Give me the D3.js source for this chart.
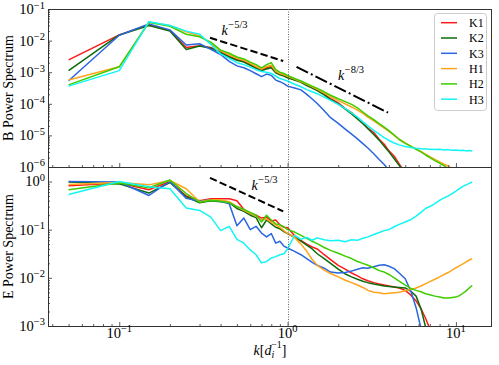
<!DOCTYPE html>
<html>
<head>
<meta charset="utf-8">
<script src="https://cdn.jsdelivr.net/npm/d3@7"></script>
<style>
body { margin: 0; background: #fff; }
svg { display: block; }
text { font-family: "Liberation Serif", "DejaVu Serif", serif; fill: #000; }
</style>
</head>
<body>
<svg width="499" height="365"></svg>
<script>
// wavenumbers k [1/d_i] where values were read
var kLow = [0.05,0.1,0.15,0.2,0.25,0.3,0.35,0.4,0.45,0.5,0.55,0.6,0.65,0.7,0.75,0.8,0.85,0.9,0.95,1.0]
var kHigh = [1.1,1.2,1.3,1.4,1.5,1.65,1.8,2.0,2.2,2.4,2.6,2.8,3.0,3.25,3.5,3.75,4.0,4.3,4.6,5.0,
             5.4,5.8,6.2,6.6,7.0,7.5,8.0,8.5,9.0,9.5,10,10.5,11,11.5,12,12.5]
var kAll = kLow.concat(kHigh)

var names = ["K1","K2","K3","H1","H2","H3"]
var colors = ["#ff1a1a","#0b6b0b","#2a66e0","#ffa51c","#3dcc00","#12f5f5"]

// B power spectrum, log10 values
var bK1 = [-2.61,-1.82,-1.50,-1.68,-2.22,-2.16,-2.22,-2.36,-2.50,-2.60,-2.66,-2.76,-2.86,-2.92,-2.86,-2.82,-3.00,-3.06,-3.10,-3.16,
           -3.24,-3.29,-3.41,-3.47,-3.57,-3.69,-3.84,-3.97,-4.15,-4.28,-4.46,-4.58,-4.77,-4.91,-5.12,-5.28,-5.49,-5.66,-5.90,-6.20]
var bK2 = [-2.95,-1.82,-1.52,-1.70,-2.28,-2.17,-2.24,-2.38,-2.52,-2.62,-2.68,-2.78,-2.88,-2.95,-2.90,-2.86,-3.02,-3.08,-3.12,-3.18,
           -3.25,-3.32,-3.42,-3.50,-3.58,-3.72,-3.86,-4.00,-4.17,-4.32,-4.48,-4.63,-4.79,-4.97,-5.15,-5.34,-5.52,-5.74,-5.95,-6.20]
var bK3 = [-3.27,-1.83,-1.47,-1.66,-2.14,-2.10,-2.28,-2.44,-2.66,-2.80,-2.86,-2.95,-3.05,-3.14,-3.06,-3.10,-3.25,-3.30,-3.36,-3.44,
           -3.50,-3.56,-3.70,-3.85,-3.99,-4.22,-4.44,-4.62,-4.80,-4.96,-5.11,-5.26,-5.40,-5.58,-5.76,-5.92,-6.10]
var bH1 = [-3.25,-2.83,-1.42,-1.52,-1.72,-1.85,-2.10,-2.32,-2.45,-2.56,-2.62,-2.72,-2.82,-2.90,-2.82,-2.78,-2.97,-3.04,-3.08,-3.13,
           -3.22,-3.30,-3.38,-3.46,-3.54,-3.66,-3.77,-3.90,-4.00,-4.10,-4.20,-4.30,-4.42,-4.54,-4.66,-4.77,-4.87,-5.00,-5.12,-5.24,
           -5.34,-5.43,-5.51,-5.59,-5.67,-5.76,-5.84,-5.91,-5.97,-6.05]
var bH2 = [-3.40,-2.83,-1.42,-1.55,-1.80,-1.88,-2.05,-2.30,-2.40,-2.52,-2.58,-2.68,-2.76,-2.86,-2.76,-2.70,-2.92,-3.00,-3.04,-3.10,
           -3.20,-3.28,-3.36,-3.44,-3.51,-3.62,-3.73,-3.84,-3.93,-4.02,-4.13,-4.26,-4.38,-4.50,-4.63,-4.74,-4.85,-4.99,-5.13,-5.25,
           -5.35,-5.44,-5.52,-5.62,-5.70,-5.80,-5.88,-5.96,-6.05]
var bH3 = [-3.44,-2.95,-1.40,-1.52,-1.70,-1.80,-2.12,-2.42,-2.56,-2.70,-2.76,-2.84,-2.92,-2.98,-3.00,-3.04,-3.12,-3.20,-3.24,-3.28,
           -3.38,-3.46,-3.55,-3.62,-3.68,-3.79,-3.89,-4.02,-4.15,-4.29,-4.42,-4.57,-4.70,-4.84,-4.96,-5.07,-5.16,-5.24,-5.30,-5.35,
           -5.38,-5.41,-5.42,-5.43,-5.44,-5.45,-5.44,-5.46,-5.45,-5.47,-5.46,-5.48,-5.47,-5.49,-5.48,-5.49]

// E power spectrum, log10 values
var eK1 = [-0.09,-0.03,-0.17,0.00,-0.30,-0.40,-0.36,-0.36,-0.36,-0.40,-0.58,-0.66,-0.70,-0.76,-0.74,-0.82,-0.80,-0.90,-0.95,-0.96,
           -1.12,-1.22,-1.30,-1.36,-1.40,-1.52,-1.62,-1.74,-1.82,-1.90,-1.96,-2.02,-2.06,-2.10,-2.13,-2.15,-2.17,-2.19,-2.21,-2.26,
           -2.36,-2.48,-2.64,-2.84,-3.06,-3.30]
var eK2 = [-0.01,-0.05,-0.24,-0.02,-0.32,-0.44,-0.40,-0.42,-0.44,-0.56,-0.62,-0.70,-0.75,-0.96,-0.80,-0.88,-0.95,-0.98,-1.04,-1.08,
           -1.16,-1.24,-1.32,-1.40,-1.50,-1.60,-1.70,-1.82,-1.92,-1.98,-2.03,-2.07,-2.10,-2.13,-2.15,-2.17,-2.18,-2.19,-2.20,-2.21,
           -2.28,-2.38,-2.64,-3.02,-3.40]
var eK3 = [0.00,-0.01,-0.29,0.00,-0.35,-0.41,-0.38,-0.41,-0.46,-0.92,-0.76,-1.00,-0.93,-1.07,-1.15,-1.08,-1.28,-1.24,-1.34,-1.38,
           -1.45,-1.52,-1.60,-1.68,-1.74,-1.80,-1.88,-1.90,-1.89,-1.86,-1.82,-1.79,-1.80,-1.77,-1.74,-1.73,-1.76,-1.81,-1.90,-2.02,
           -2.28,-2.62,-3.05]
var eH1 = [-0.06,-0.02,-0.07,0.02,-0.15,-0.42,-0.38,-0.38,-0.42,-0.52,-0.60,-0.66,-0.72,-0.80,-0.78,-0.85,-0.90,-0.95,-1.02,-1.08,
           -1.16,-1.30,-1.45,-1.62,-1.74,-1.84,-1.91,-1.98,-2.05,-2.10,-2.15,-2.20,-2.26,-2.30,-2.31,-2.33,-2.32,-2.31,-2.30,-2.27,
           -2.24,-2.21,-2.17,-2.12,-2.08,-2.03,-1.98,-1.93,-1.89,-1.84,-1.79,-1.75,-1.71,-1.67,-1.63,-1.60]
var eH2 = [-0.17,-0.03,-0.13,0.03,-0.25,-0.43,-0.39,-0.41,-0.44,-0.52,-0.58,-0.64,-0.70,-0.84,-0.70,-0.80,-0.88,-0.90,-0.94,-1.00,
           -1.05,-1.12,-1.18,-1.24,-1.29,-1.37,-1.43,-1.49,-1.55,-1.60,-1.66,-1.70,-1.74,-1.79,-1.85,-1.88,-1.93,-2.00,-2.07,-2.15,
           -2.22,-2.26,-2.29,-2.33,-2.35,-2.38,-2.40,-2.42,-2.42,-2.41,-2.40,-2.37,-2.32,-2.27,-2.21,-2.16]
var eH3 = [-0.27,0.00,-0.11,-0.15,-0.55,-0.60,-0.74,-1.02,-0.93,-1.20,-1.28,-1.42,-1.52,-1.69,-1.66,-1.59,-1.56,-1.52,-1.50,-1.40,
           -1.12,-1.20,-1.16,-1.22,-1.17,-1.21,-1.23,-1.22,-1.25,-1.21,-1.22,-1.18,-1.15,-1.10,-1.06,-1.02,-1.00,-0.94,-0.89,-0.84,
           -0.79,-0.72,-0.64,-0.56,-0.52,-0.46,-0.39,-0.34,-0.30,-0.25,-0.20,-0.15,-0.10,-0.07,-0.04,-0.01]

var bSeries = [bK1,bK2,bK3,bH1,bH2,bH3]
var eSeries = [eK1,eK2,eK3,eH1,eH2,eH3]

// reference slopes: [k0, log10 v0, k1, log10 v1]
var bSlope53 = [0.346,-1.91,0.942,-2.645]
var bSlope83 = [1.13,-2.83,3.95,-4.28]
var eSlope53 = [0.346,0.075,0.942,-0.62]

var bTicks = [-6,-5,-4,-3,-2,-1]
var eTicks = [-3,-2,-1,0]
var xTicks = [-1,0,1]

var svg = d3.select("svg")
var left = 48, right = 492
var x = d3.scaleLog().domain([0.03773, 16.38]).range([left, right])
var yB = d3.scaleLog().domain([1e-6, 1e-1]).range([167, 9])
var yE = d3.scaleLog().domain([1e-3, 2]).range([326, 167])

function minors(lo, hi) {
	var out = []
	for (var d = lo; d <= hi; d++) for (var m = 2; m <= 9; m++) out.push(m * Math.pow(10, d))
	return out
}
var xMinor = minors(-2, 1).filter(v => v > 0.03773 && v < 16.38)

function sup(g, base, exp, size, ssize) {
	g.append("tspan").style("font-size", size + "px").text(base)
	g.append("tspan").style("font-size", ssize + "px").attr("dy", -size * 0.38).text(exp)
}
function expLabel(p) { return p < 0 ? "\u2212" + (-p) : "" + p }

function panel(y, series, yMajor, yMinorVals, id) {
	var top = y.range()[1], bot = y.range()[0]
	svg.append("clipPath").attr("id", id).append("rect")
		.attr("x", left).attr("y", top).attr("width", right - left).attr("height", bot - top)

	var line = d3.line().x(d => x(d[0])).y(d => y(Math.pow(10, d[1])))
	var g = svg.append("g").attr("clip-path", "url(#" + id + ")")
	series.forEach((s, i) => {
		g.append("path")
			.datum(s.map((v, j) => [kAll[j], v]))
			.attr("d", line)
			.attr("fill", "none")
			.attr("stroke", colors[i])
			.attr("stroke-width", 1.5)
			.attr("stroke-linejoin", "round")
	})

	// ticks pointing inwards
	svg.append("g").attr("transform", "translate(0," + bot + ")")
		.call(d3.axisBottom(x).tickValues(xTicks.map(p => Math.pow(10, p))).tickSize(-4).tickFormat(""))
		.call(a => a.select(".domain").remove())
	svg.append("g").attr("transform", "translate(0," + bot + ")")
		.call(d3.axisBottom(x).tickValues(xMinor).tickSize(-2).tickFormat(""))
		.call(a => a.select(".domain").remove())
	svg.append("g").attr("transform", "translate(" + left + ",0)")
		.call(d3.axisLeft(y).tickValues(yMajor.map(p => Math.pow(10, p))).tickSize(-4).tickFormat(""))
		.call(a => a.select(".domain").remove())
	svg.append("g").attr("transform", "translate(" + left + ",0)")
		.call(d3.axisLeft(y).tickValues(yMinorVals).tickSize(-2).tickFormat(""))
		.call(a => a.select(".domain").remove())
	svg.selectAll(".tick line").attr("stroke", "#333").attr("stroke-width", 0.8)

	yMajor.forEach(p => {
		var t = svg.append("text").attr("x", left - 3).attr("y", y(Math.pow(10, p)) + 5)
			.style("text-anchor", "end")
		sup(t, "10", expLabel(p), 14.5, 10.5)
	})

	svg.append("rect").attr("x", left + 0.5).attr("y", top + 0.5)
		.attr("width", right - left - 1).attr("height", bot - top)
		.attr("fill", "none").attr("stroke", "#333").attr("stroke-width", 1)
}

panel(yB, bSeries, bTicks, minors(-6, -2), "clipB")
panel(yE, eSeries, eTicks, minors(-3, 0).filter(v => v <= 2), "clipE")

// vertical dotted line at k = 1
svg.append("line")
	.attr("x1", Math.round(x(1)) + 0.5).attr("x2", Math.round(x(1)) + 0.5)
	.attr("y1", 9).attr("y2", 326)
	.attr("stroke", "#666").attr("stroke-width", 1).attr("stroke-dasharray", "1,1.5")

// slope guide lines
function guide(y, s, dash) {
	svg.append("line")
		.attr("x1", x(s[0])).attr("y1", y(Math.pow(10, s[1])))
		.attr("x2", x(s[2])).attr("y2", y(Math.pow(10, s[3])))
		.attr("stroke", "#000").attr("stroke-width", 2).attr("stroke-dasharray", dash)
}
guide(yB, bSlope53, "7.4,3.2")
guide(yB, bSlope83, "12.8,3.2,2,3.2")
guide(yE, eSlope53, "7.4,3.2")

function kPow(px, py, exp) {
	var t = svg.append("text").attr("x", px).attr("y", py)
	t.append("tspan").style("font-size", "14px").style("font-style", "italic").text("k")
	t.append("tspan").style("font-size", "10.5px").attr("dy", -7).attr("dx", 0.5).text(exp)
}
kPow(221.5, 35, "\u22125/3")
kPow(338, 80, "\u22128/3")
kPow(251.5, 190, "\u22125/3")

// axis titles
svg.append("text").attr("transform", "translate(13,88) rotate(-90)")
	.style("text-anchor", "middle").style("font-size", "14px").text("B Power Spectrum")
svg.append("text").attr("transform", "translate(13,246.5) rotate(-90)")
	.style("text-anchor", "middle").style("font-size", "14px").text("E Power Spectrum")

xTicks.forEach(p => {
	var t = svg.append("text").attr("x", x(Math.pow(10, p))).attr("y", 338)
		.style("text-anchor", "middle")
	sup(t, "10", expLabel(p), 14.5, 10.5)
})

var xl = svg.append("text").attr("x", 270).attr("y", 355).style("text-anchor", "middle").style("font-size", "14px")
xl.append("tspan").style("font-style", "italic").text("k")
xl.append("tspan").text("[")
xl.append("tspan").style("font-style", "italic").text("d")
xl.append("tspan").style("font-style", "italic").style("font-size", "10px").attr("dy", 3).text("i")
xl.append("tspan").style("font-size", "10px").attr("dy", -10).attr("dx", -3).text("\u22121")
xl.append("tspan").attr("dy", 7).text("]")

// legend
var lg = svg.append("g")
lg.append("rect").attr("x", 434.5).attr("y", 13.5).attr("width", 52).attr("height", 97).attr("rx", 3)
	.attr("fill", "#fff").attr("fill-opacity", 0.85).attr("stroke", "#ccc").attr("stroke-width", 1)
names.forEach((n, i) => {
	var yy = 22.7 + i * 15.3
	lg.append("line").attr("x1", 441).attr("x2", 457).attr("y1", yy).attr("y2", yy)
		.attr("stroke", colors[i]).attr("stroke-width", 1.5)
	lg.append("text").attr("x", 469).attr("y", yy + 4.3).style("font-size", "12px").text(n)
})
</script>
</body>
</html>
